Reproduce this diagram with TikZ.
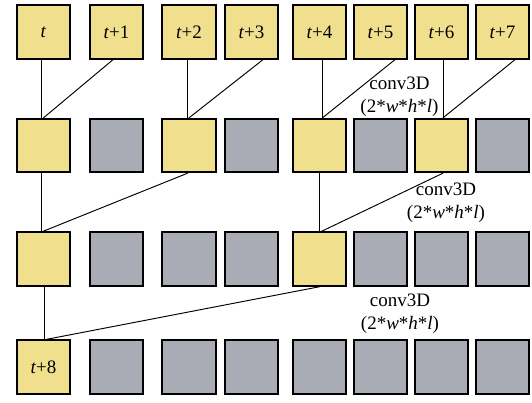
\documentclass[tikz,border=0pt]{standalone}
\usepackage{fontspec}
\setmainfont{Liberation Serif}
\definecolor{cellyellow}{RGB}{240,224,142}
\definecolor{cellgray}{RGB}{170,172,181}
\begin{document}
\begin{tikzpicture}[x=1pt,y=-1pt,
  cell/.style={draw=black,line width=1.8pt,minimum size=53.5pt,inner sep=0pt,
    font=\fontsize{19}{23}\selectfont},
  active/.style={cell,fill=cellyellow},
  idle/.style={cell,fill=cellgray},
  link/.style={draw=black,line width=0.95pt},
  convlabel/.style={align=center,inner sep=0pt,font=\fontsize{19}{23}\selectfont}]
\useasboundingbox (0,0) rectangle (532,403);

% column centres and row centres
\def\cA{43.5}\def\cB{116.5}\def\cC{189}\def\cD{251.5}
\def\cE{319.5}\def\cF{380.5}\def\cG{441.5}\def\cH{502.5}
\def\rA{32}\def\rB{145.5}\def\rC{259}\def\rD{367}

% input frames
\node[active] (a1) at (\cA,\rA) {\textit{t}};
\node[active] (a2) at (\cB,\rA) {\textit{t}+1};
\node[active] (a3) at (\cC,\rA) {\textit{t}+2};
\node[active] (a4) at (\cD,\rA) {\textit{t}+3};
\node[active] (a5) at (\cE,\rA) {\textit{t}+4};
\node[active] (a6) at (\cF,\rA) {\textit{t}+5};
\node[active] (a7) at (\cG,\rA) {\textit{t}+6};
\node[active] (a8) at (\cH,\rA) {\textit{t}+7};

% first dilated layer
\node[active] (b1) at (\cA,\rB) {};
\node[idle]   (b2) at (\cB,\rB) {};
\node[active] (b3) at (\cC,\rB) {};
\node[idle]   (b4) at (\cD,\rB) {};
\node[active] (b5) at (\cE,\rB) {};
\node[idle]   (b6) at (\cF,\rB) {};
\node[active] (b7) at (\cG,\rB) {};
\node[idle]   (b8) at (\cH,\rB) {};

% second dilated layer
\node[active] (c1) at (\cA,\rC) {};
\node[idle]   (c2) at (\cB,\rC) {};
\node[idle]   (c3) at (\cC,\rC) {};
\node[idle]   (c4) at (\cD,\rC) {};
\node[active] (c5) at (\cE,\rC) {};
\node[idle]   (c6) at (\cF,\rC) {};
\node[idle]   (c7) at (\cG,\rC) {};
\node[idle]   (c8) at (\cH,\rC) {};

% output layer
\node[active] (d1) at (\cA,\rD) {\textit{t}+8};
\node[idle]   (d2) at (\cB,\rD) {};
\node[idle]   (d3) at (\cC,\rD) {};
\node[idle]   (d4) at (\cD,\rD) {};
\node[idle]   (d5) at (\cE,\rD) {};
\node[idle]   (d6) at (\cF,\rD) {};
\node[idle]   (d7) at (\cG,\rD) {};
\node[idle]   (d8) at (\cH,\rD) {};

% inputs -> first layer
\draw[link] ([xshift=-2.5pt]a1.south) -- ([xshift=-2.5pt]b1.north);
\draw[link] ([xshift=-3.5pt]a2.south) -- ([xshift=0pt]b1.north);
\draw[link] ([xshift=-2pt]a3.south) -- ([xshift=-2pt]b3.north);
\draw[link] ([xshift=11.5pt]a4.south) -- ([xshift=0pt]b3.north);
\draw[link] ([xshift=3pt]a5.south) -- ([xshift=3pt]b5.north);
\draw[link] ([xshift=14.5pt]a6.south) -- ([xshift=3pt]b5.north);
\draw[link] ([xshift=1.5pt]a7.south) -- ([xshift=1.5pt]b7.north);
\draw[link] ([xshift=12.5pt]a8.south) -- ([xshift=1.5pt]b7.north);

% first layer -> second layer
\draw[link] ([xshift=-2.5pt]b1.south) -- ([xshift=-2.5pt]c1.north);
\draw[link] ([xshift=-1.3pt]b3.south) -- ([xshift=-0.5pt]c1.north);
\draw[link] ([xshift=-0.5pt]b5.south) -- ([xshift=-0.5pt]c5.north);
\draw[link] ([xshift=1.5pt]b7.south) -- ([xshift=2pt]c5.north);

% second layer -> output
\draw[link] ([xshift=0.8pt]c1.south) -- ([xshift=0.8pt]d1.north);
\draw[link] ([xshift=0.5pt]c5.south) -- ([xshift=3pt]d1.north);

% kernel annotations
\node[convlabel] (k1) at (399.5,96.5) {conv3D\\(2*\textit{w}*\textit{h}*\textit{l})};
\node[convlabel] (k2) at (446,202.5) {conv3D\\(2*\textit{w}*\textit{h}*\textit{l})};
\node[convlabel] (k3) at (400,313.5) {conv3D\\(2*\textit{w}*\textit{h}*\textit{l})};
\end{tikzpicture}
\end{document}
